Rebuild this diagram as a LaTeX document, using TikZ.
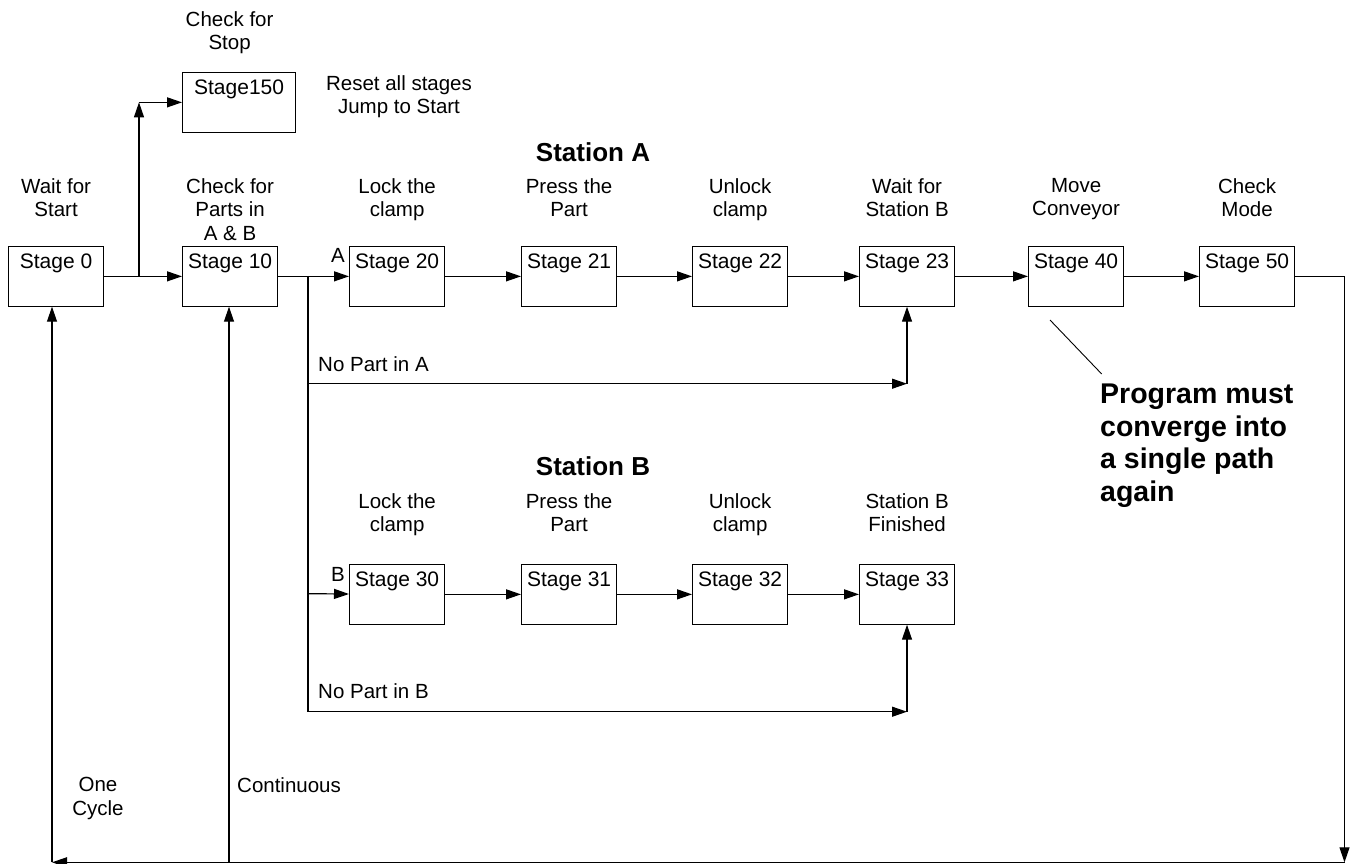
\documentclass[tikz,border=0pt]{standalone}
\usepackage{fontspec}
\setmainfont{Liberation Sans}
\usetikzlibrary{arrows.meta,calc}
\tikzset{
  stagebox/.style={draw, line width=1.2pt, anchor=north west, minimum width=95pt,
    inner xsep=0pt, inner ysep=0pt, text height=22pt, text depth=37.5pt,
    font=\fontsize{21}{24}\selectfont},
  lbl/.style={align=center, anchor=north, inner sep=0pt, font=\fontsize{20.5}{23.5}\selectfont},
  plain/.style={inner sep=0pt, font=\fontsize{20.5}{23.5}\selectfont},
  heading/.style={inner sep=0pt, font=\bfseries\fontsize{26}{30}\selectfont},
  note/.style={align=left, anchor=north west, inner sep=0pt, font=\bfseries\fontsize{28.5}{32.5}\selectfont},
  arr/.style={line width=1.2pt, -{Triangle[length=15pt,width=10pt]}},
  wire/.style={line width=1.2pt}
}
\begin{document}
\begin{tikzpicture}[x=1pt,y=-1pt]
\useasboundingbox (0,0) rectangle (1351,863);
% stage boxes
\node[stagebox] (s0) at (8,246) {Stage 0};
\node[stagebox] (s10) at (182,246) {Stage 10};
\node[stagebox] (s20) at (349,246) {Stage 20};
\node[stagebox] (s21) at (521,246) {Stage 21};
\node[stagebox] (s22) at (692,246) {Stage 22};
\node[stagebox] (s23) at (859,246) {Stage 23};
\node[stagebox] (s40) at (1028,246) {Stage 40};
\node[stagebox] (s50) at (1199,246) {Stage 50};
\node[stagebox, minimum width=113pt] (s150) at (182,72) {Stage150};
\node[stagebox] (s30) at (349,564) {Stage 30};
\node[stagebox] (s31) at (521,564) {Stage 31};
\node[stagebox] (s32) at (692,564) {Stage 32};
\node[stagebox] (s33) at (859,564) {Stage 33};
% labels above row A
\node[lbl] (l0) at ([yshift=68pt]s0.north) {Wait for\\Start};
\node[lbl] (l10) at ([yshift=68pt]s10.north) {Check for\\Parts in\\A \& B};
\node[lbl] (l20) at ([yshift=68pt]s20.north) {Lock the\\clamp};
\node[lbl] (l21) at ([yshift=68pt]s21.north) {Press the\\Part};
\node[lbl] (l22) at ([yshift=68pt]s22.north) {Unlock\\clamp};
\node[lbl] (l23) at ([yshift=68pt]s23.north) {Wait for\\Station B};
\node[lbl] (l40) at ([yshift=68pt]s40.north) {Move\\Conveyor};
\node[lbl] (l50) at ([yshift=68pt]s50.north) {Check\\Mode};
\node[lbl] (l150) at ([xshift=-9.5pt,yshift=61pt]s150.north) {Check for\\Stop};
\node[lbl] (reset) at (399,75) {Reset all stages\\Jump to Start};
% labels above row B
\node[lbl] (l30) at ([yshift=71pt]s30.north) {Lock the\\clamp};
\node[lbl] (l31) at ([yshift=71pt]s31.north) {Press the\\Part};
\node[lbl] (l32) at ([yshift=71pt]s32.north) {Unlock\\clamp};
\node[lbl] (l33) at ([yshift=71pt]s33.north) {Station B\\Finished};
% headings
\node[heading] (hA) at (593,152) {Station A};
\node[heading] (hB) at (593,466) {Station B};
\node[plain, anchor=base west] (npa) at (318,371.7) {No Part in A};
\node[plain, anchor=base west] (npb) at (318,698) {No Part in B};
\node[plain] (la) at (338,255) {A};
\node[plain] (lb) at (338,574) {B};
\node[lbl] (one) at (98,777) {One\\Cycle};
\node[plain, anchor=base west] (cont) at (237,792) {Continuous};
\node[note] (prog) at (1100,384) {Program must\\converge into\\a single path\\again};
% coordinates
\coordinate (j0) at (139,275.75);
\coordinate (j0t) at (j0 |- s150.west);
\coordinate (j1) at (308,275.75);
\coordinate (jA) at (308,383.7);
\coordinate (kA) at (907,383.7);
\coordinate (jB1) at (308,593.7);
\coordinate (jB2) at (308,711.7);
\coordinate (kB) at (907,711.7);
\coordinate (r2) at (1344.5,862.3);
\coordinate (b0) at (52,862.3);
\coordinate (b1) at (229,862.3);
\coordinate (c1) at (1050,320);
\coordinate (c2) at (1101.7,374);
% connectors
\draw[arr] (s0) -- (s10);
\draw[arr] (j0) -- (j0t);
\draw[arr] (j0t) -- (s150);
\draw[arr] (s10) -- (s20);
\draw[arr] (s20) -- (s21);
\draw[arr] (s21) -- (s22);
\draw[arr] (s22) -- (s23);
\draw[arr] (s23) -- (s40);
\draw[arr] (s40) -- (s50);
\draw[wire] (j1) -- (jB2);
\draw[arr] (jA) -- (kA);
\draw[arr] (kA) -- (kA |- s23.south);
\draw[arr] (jB1) -- (s30);
\draw[arr] (s30) -- (s31);
\draw[arr] (s31) -- (s32);
\draw[arr] (s32) -- (s33);
\draw[arr] (jB2) -- (kB);
\draw[arr] (kB) -- (kB |- s33.south);
\draw[arr] (s50) -| (r2);
\draw[arr] (r2) -- (b0);
\draw[arr] (b0) -- (b0 |- s0.south);
\draw[arr] (b1) -- (b1 |- s10.south);
\draw[line width=0.9pt] (c1) -- (c2);
\end{tikzpicture}
\end{document}
